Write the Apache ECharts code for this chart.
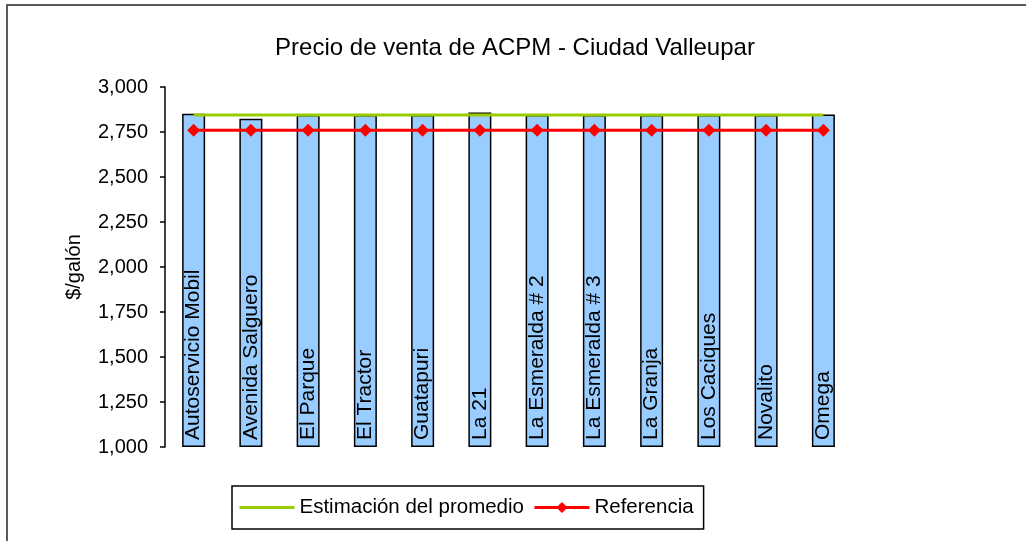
<!DOCTYPE html>
<html>
<head>
<meta charset="utf-8">
<script src="https://cdn.jsdelivr.net/npm/echarts@6/dist/echarts.min.js"></script>
<style>
  html, body { margin: 0; padding: 0; background: #fff; }
  #chart { width: 1026px; height: 541px; }
</style>
</head>
<body>
<div id="chart"></div>
<script>
// Gas stations in Valledupar and their ACPM (diesel) price, $/galón
const stations = [
  'Autoservicio Mobil', 'Avenida Salguero', 'El Parque', 'El Tractor',
  'Guatapuri', 'La 21', 'La Esmeralda # 2', 'La Esmeralda # 3',
  'La Granja', 'Los Caciques', 'Novalito', 'Omega'
];
const prices = [2852, 2824, 2845, 2845, 2845, 2859, 2845, 2845, 2845, 2845, 2845, 2847];
const averageEstimate = [2845, 2845, 2845, 2845, 2845, 2845, 2845, 2845, 2845, 2845, 2845, 2845];
const reference = [2760, 2760, 2760, 2760, 2760, 2760, 2760, 2760, 2760, 2760, 2760, 2760];
const yTicks = { min: 1000, max: 3000, step: 250 };

const FONT = 'Liberation Sans, Arial, sans-serif';
const chart = echarts.init(document.getElementById('chart'));

chart.setOption({
  animation: false,
  textStyle: { fontFamily: FONT, color: '#000' },
  graphic: [{
    type: 'rect',
    shape: { x: 7, y: 5, width: 1100, height: 600 },
    style: { fill: 'none', stroke: '#5a5a5a', lineWidth: 2 },
    silent: true
  }],
  title: {
    text: 'Precio de venta de ACPM - Ciudad Valleupar',
    left: 510, top: 31, textAlign: 'center',
    textStyle: { fontFamily: FONT, fontSize: 24, fontWeight: 'normal', color: '#000' }
  },
  legend: {
    left: 232, top: 486,
    padding: [11, 10, 11, 6],
    itemGap: 9, itemWidth: 55, itemHeight: 14,
    borderColor: '#000', borderWidth: 1.5,
    lineStyle: { width: 3 },
    textStyle: { fontFamily: FONT, fontSize: 20.5, color: '#000' },
    data: [
      { name: 'Estimación del promedio', itemStyle: { opacity: 0 } },
      'Referencia'
    ]
  },
  grid: { left: 165, right: 174, top: 87, bottom: 94, containLabel: false },
  xAxis: {
    type: 'category',
    data: stations,
    axisLine: { show: false },
    axisTick: { show: false },
    axisLabel: { show: false }
  },
  yAxis: {
    type: 'value',
    min: yTicks.min, max: yTicks.max, interval: yTicks.step,
    startValue: yTicks.min,
    name: '$/galón',
    nameLocation: 'middle', nameRotate: 90, nameGap: 81,
    nameTextStyle: { fontFamily: FONT, fontSize: 20, color: '#000' },
    axisLine: { show: true, lineStyle: { color: '#000', width: 1.5 } },
    axisTick: { show: true, inside: false, length: 5, lineStyle: { color: '#000', width: 1.5 } },
    axisLabel: {
      margin: 17, fontFamily: FONT, fontSize: 20, color: '#000',
      formatter: v => v.toLocaleString('en-US')
    },
    splitLine: { show: false }
  },
  series: [
    {
      name: 'Precio',
      type: 'bar',
      data: prices,
      barWidth: 23,
      z: 1,
      itemStyle: { color: '#99CCFF', borderColor: '#000', borderWidth: 1.5 },
      label: {
        show: true,
        position: 'insideBottom',
        rotate: 90,
        align: 'left',
        verticalAlign: 'middle',
        distance: 7,
        fontFamily: FONT, fontSize: 21, color: '#000',
        formatter: p => p.name
      }
    },
    {
      name: 'Estimación del promedio',
      type: 'line',
      data: averageEstimate,
      symbol: 'none',
      z: 3,
      itemStyle: { color: '#99CC00' },
      lineStyle: { color: '#99CC00', width: 3 }
    },
    {
      name: 'Referencia',
      type: 'line',
      data: reference,
      symbol: 'diamond',
      symbolSize: 13,
      z: 4,
      itemStyle: { color: '#FF0000' },
      lineStyle: { color: '#FF0000', width: 3 }
    }
  ]
});
</script>
</body>
</html>
